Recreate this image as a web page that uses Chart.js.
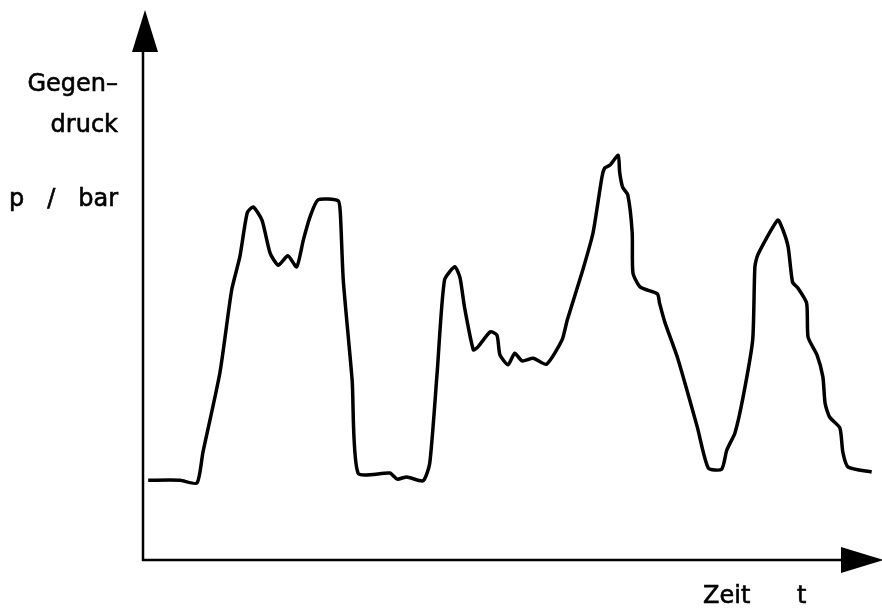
<!DOCTYPE html>
<html>
<head>
<meta charset="utf-8">
<script src="https://cdn.jsdelivr.net/npm/chart.js@4.4.1/dist/chart.umd.min.js"></script>
<style>
    body { margin: 0; background: #fff; }
    #wrap { position: relative; width: 882px; height: 612px; }
    .lbl {
        position: absolute;
        font-family: "DejaVu Sans", sans-serif;
        font-size: 24px;
        line-height: 24px;
        color: #000;
        white-space: pre;
        -webkit-text-stroke: 0.6px #000;
    }
</style>
</head>
<body>
<div id="wrap">
    <canvas id="chart" width="882" height="612"></canvas>
    <div class="lbl" style="right:764px; top:71px;">Gegen–</div>
    <div class="lbl" style="right:764px; top:112px;">druck</div>
    <div class="lbl" style="right:764px; top:186px;">p   /   bar</div>
    <div class="lbl" style="left:703px; top:583px;">Zeit</div>
    <div class="lbl" style="left:797px; top:583px;">t</div>
</div>
<script>
// time t (arbitrary units, 0..100 along the axis)
const zeit = [0.7, 5.0, 7.3, 8.1, 10.4, 12.0, 13.1, 14.1, 14.9, 16.1, 17.2, 18.3, 19.6, 20.8, 21.7, 22.6, 23.7,
    26.4, 26.7, 27.1, 28.3, 29.1, 33.4, 34.4, 35.7, 37.9, 38.8, 39.8, 40.8, 42.2, 42.9, 43.5, 44.7, 45.3,
    47.0, 47.9, 48.3, 49.4, 50.3, 51.3, 52.8, 54.6, 56.7, 57.4, 59.5, 60.9, 62.1, 62.5, 63.2, 64.3, 64.5,
    64.9, 65.6, 66.2, 66.3, 67.3, 69.6, 69.9, 70.6, 72.3, 73.6, 75.0, 76.5, 78.3, 79.0, 80.1, 81.2, 82.5,
    82.8, 83.2, 85.9, 86.6, 87.3, 87.9, 88.6, 89.8, 90.0, 91.2, 92.0, 92.3, 92.9, 94.3, 94.7, 95.4, 98.6];

// back pressure p (arbitrary units, 0..100 along the axis)
const gegendruck = [14.5, 14.5, 14.0, 19.5, 34.0, 49.1, 55.1, 63.1, 64.2, 61.8, 55.8, 53.6, 55.3, 53.3, 58.2, 62.4, 65.5,
    65.3, 63.1, 50.9, 32.7, 15.8, 15.8, 14.7, 15.1, 14.4, 17.6, 34.0, 50.9, 53.3, 51.3, 46.0, 38.2, 38.7,
    41.5, 40.9, 37.3, 35.5, 37.6, 36.2, 36.7, 35.6, 40.0, 43.6, 52.7, 59.5, 69.6, 71.3, 71.8, 73.6, 70.5,
    67.8, 66.4, 59.5, 52.2, 49.6, 48.4, 46.7, 43.3, 36.9, 30.9, 24.2, 16.7, 16.5, 20.0, 23.1, 29.6, 40.0,
    53.3, 55.5, 61.8, 60.0, 56.9, 50.5, 49.5, 46.7, 40.5, 37.3, 33.3, 28.5, 26.0, 24.0, 19.6, 16.9, 16.0];

const points = zeit.map((t, i) => ({ x: t, y: gegendruck[i] }));

// axes with arrow heads, drawn along the chart area edges
const arrowAxes = {
    id: 'arrowAxes',
    beforeDatasetsDraw(chart) {
        const { ctx, chartArea } = chart;
        const { left, right, top, bottom } = chartArea;
        ctx.save();
        ctx.strokeStyle = '#000';
        ctx.fillStyle = '#000';
        ctx.lineWidth = 2.5;
        ctx.beginPath();
        ctx.moveTo(left, bottom + 1);
        ctx.lineTo(left, top + 30);
        ctx.moveTo(left - 1, bottom);
        ctx.lineTo(right - 30, bottom);
        ctx.stroke();

        ctx.beginPath();
        ctx.moveTo(left + 2, top);
        ctx.lineTo(left - 11, top + 42);
        ctx.lineTo(left + 15, top + 42);
        ctx.closePath();
        ctx.fill();

        ctx.beginPath();
        ctx.moveTo(right + 2, bottom);
        ctx.lineTo(right - 41, bottom - 13);
        ctx.lineTo(right - 41, bottom + 13);
        ctx.closePath();
        ctx.fill();
        ctx.restore();
    }
};

new Chart(document.getElementById('chart'), {
    type: 'scatter',
    data: {
        datasets: [{
            data: points,
            showLine: true,
            borderColor: '#000',
            borderWidth: 3.5,
            pointRadius: 0,
            tension: 0.2,
            fill: false
        }]
    },
    options: {
        responsive: false,
        animation: false,
        devicePixelRatio: 1,
        layout: { padding: { left: 143, top: 10, right: 0, bottom: 52 } },
        plugins: { legend: { display: false }, tooltip: { enabled: false } },
        scales: {
            x: { type: 'linear', min: 0, max: 100, display: false },
            y: { type: 'linear', min: 0, max: 100, display: false }
        }
    },
    plugins: [arrowAxes]
});
</script>
</body>
</html>
